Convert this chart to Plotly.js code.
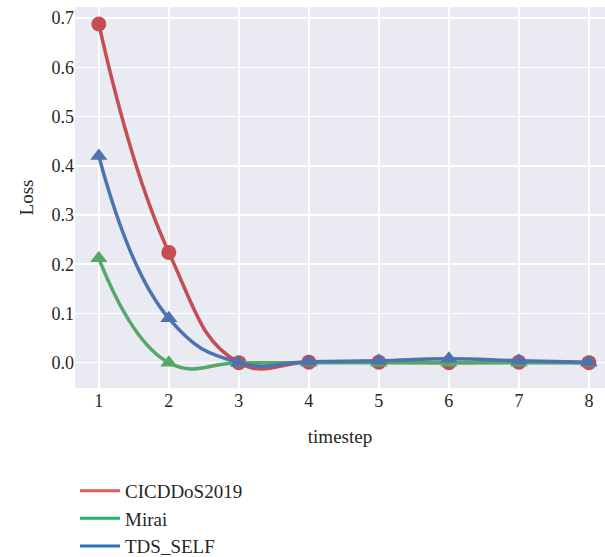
<!DOCTYPE html>
<html><head><meta charset="utf-8">
<script src="https://cdn.plot.ly/plotly-3.0.1.min.js"></script>
<style>html,body{margin:0;padding:0;overflow:hidden;background:#fff}</style>
</head><body><div id="chart" style="width:605px;height:557px"></div>
<script>
const timestep = [1, 2, 3, 4, 5, 6, 7, 8];
const cicddos = [0.688, 0.224, 0.0, 0.001, 0.001, 0.0, 0.001, 0.0];
const mirai = [0.212, 0.0, 0.0, 0.0, 0.0, 0.0, 0.0, 0.0];
const tdsSelf = [0.420, 0.090, 0.0, 0.002, 0.004, 0.008, 0.004, 0.001];
const names = ['CICDDoS2019', 'Mirai', 'TDS_SELF'];
const yTicks = [0.0, 0.1, 0.2, 0.3, 0.4, 0.5, 0.6, 0.7];

const FONT = 'Liberation Serif, DejaVu Serif, serif';
const colors = ['#C44E52', '#55A868', '#4C72B0'];
const legendColors = ['#E8555A', '#22B26B', '#2E70B9'];
const series = [cicddos, mirai, tdsSelf];
const symbols = ['circle', 'triangle-up', 'triangle-up'];

const traces = [];
series.forEach((s, i) => {
  traces.push({
    x: timestep, y: s, type: 'scatter', mode: 'lines+markers',
    line: {color: colors[i], width: 3.5, shape: 'spline', smoothing: 1.3},
    marker: {color: colors[i], size: 15, symbol: symbols[i]},
    showlegend: false, hoverinfo: 'skip'
  });
});
series.forEach((s, i) => {
  traces.push({
    x: [null], y: [null], type: 'scatter', mode: 'lines',
    name: names[i], legendgroup: 'g' + i,
    line: {color: legendColors[i], width: 3}
  });
});

const layout = {
  width: 605, height: 557,
  margin: {l: 75, r: 0, t: 7, b: 169, autoexpand: false},
  paper_bgcolor: '#ffffff', plot_bgcolor: '#EAEAF2',
  font: {family: FONT, color: '#262626', size: 17},
  xaxis: {
    range: [0.66, 8.23], tickvals: timestep, ticktext: timestep.map(String),
    showgrid: true, gridcolor: '#ffffff', gridwidth: 1.6, zeroline: false, showline: false,
    ticks: '', ticklen: 0, tickfont: {family: FONT, size: 18, color: '#262626'},
    automargin: false,
    title: {text: 'timestep', font: {family: FONT, size: 19, color: '#262626'}, standoff: 19}
  },
  yaxis: {
    range: [-0.0515, 0.7225], tickvals: yTicks, ticktext: yTicks.map(v => v.toFixed(1)),
    showgrid: true, gridcolor: '#ffffff', gridwidth: 1.6, zeroline: false, showline: false,
    ticks: '', tickfont: {family: FONT, size: 18, color: '#262626'},
    automargin: false,
    title: {text: 'Loss', font: {family: FONT, size: 19, color: '#262626'}, standoff: 12}
  },
  showlegend: true,
  legend: {
    x: 0.0, y: -0.22, xanchor: 'left', yanchor: 'top', orientation: 'v',
    font: {family: FONT, size: 19, color: '#262626'}, bgcolor: 'rgba(0,0,0,0)', tracegroupgap: 0, itemwidth: 40
  }
};
Plotly.newPlot('chart', traces, layout, {displayModeBar: false, staticPlot: true});
</script></body></html>
